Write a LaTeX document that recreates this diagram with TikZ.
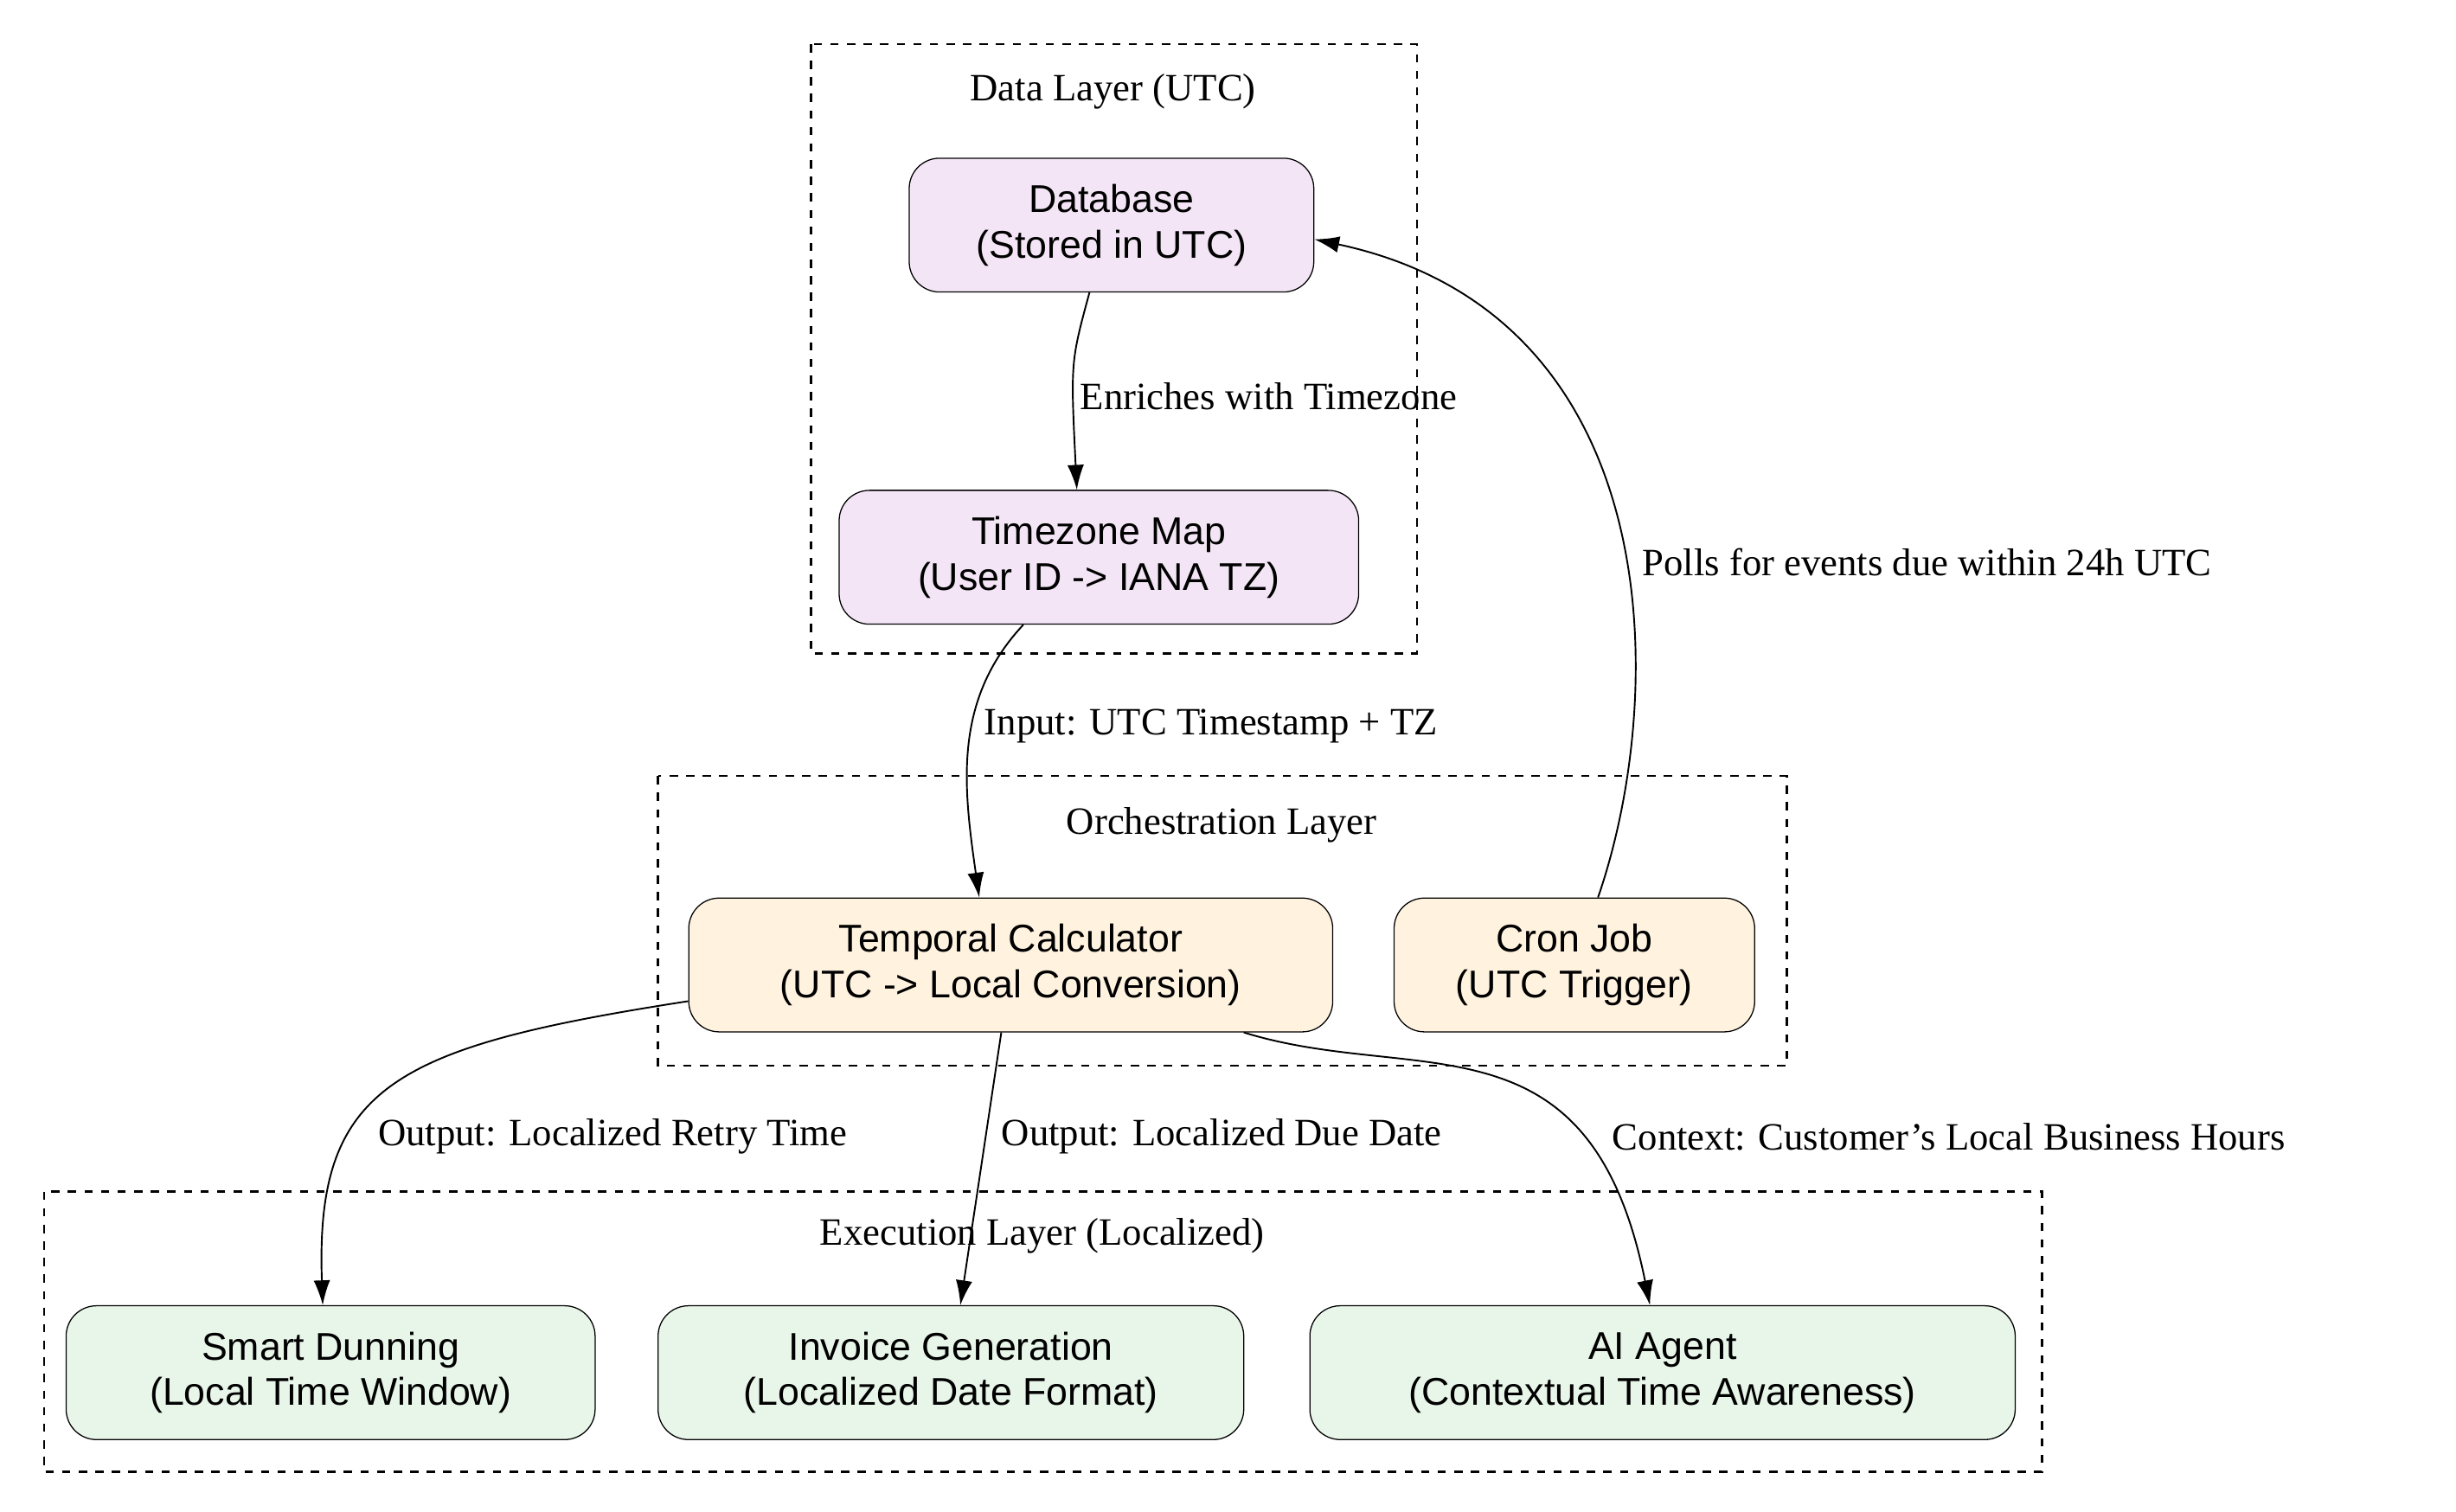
\documentclass[tikz,border=0pt]{standalone}
\usepackage{fontspec}
\setmainfont{Liberation Serif}
\setsansfont{Liberation Sans}
\usetikzlibrary{arrows.meta,positioning}
\definecolor{datafill}{HTML}{F3E5F5}
\definecolor{orchfill}{HTML}{FFF3E0}
\definecolor{execfill}{HTML}{E8F5E9}
\begin{document}
\begin{tikzpicture}[
    x=0.57pt, y=-0.57pt,
    box/.style={draw, rounded corners=11pt, align=center, inner sep=0pt, font=\sffamily\fontsize{14}{16.5}\selectfont, minimum height=0.57pt*85},
    layer/.style={draw, dashed, thick},
    lbl/.style={font=\fontsize{14}{16}\selectfont},
    arr/.style={-{Latex[length=9pt,width=6pt]}, semithick}
  ]
    \useasboundingbox (0,0) rectangle (1560,960);

    % clusters
    \draw[layer] (515,28) rectangle (900,415);
    \node[lbl] (datalbl) at (707,58) {Data Layer (UTC)};
    \draw[layer] (418,493) rectangle (1135,677);
    \node[lbl] (orchlbl) at (776,524) {Orchestration Layer};
    \draw[layer] (28,757) rectangle (1297,935);
    \node[lbl] (execlbl) at (662,785) {Execution Layer (Localized)};

    % nodes
    \node[box, fill=datafill, minimum width=0.57pt*257] (db) at (706,143) {Database\\(Stored in UTC)};
    \node[box, fill=datafill, minimum width=0.57pt*330] (tzmap) at (698,354) {Timezone Map\\(User ID -> IANA TZ)};
    \node[box, fill=orchfill, minimum width=0.57pt*409] (calc) at (642,613) {Temporal Calculator\\(UTC -> Local Conversion)};
    \node[box, fill=orchfill, minimum width=0.57pt*229] (cron) at (1000,613) {Cron Job\\(UTC Trigger)};
    \node[box, fill=execfill, minimum width=0.57pt*336] (dunning) at (210,872) {Smart Dunning\\(Local Time Window)};
    \node[box, fill=execfill, minimum width=0.57pt*372] (invoice) at (604,872) {Invoice Generation\\(Localized Date Format)};
    \node[box, fill=execfill, minimum width=0.57pt*448] (agent) at (1056,872) {AI Agent\\(Contextual Time Awareness)};

    % edges
    \draw[arr] (db.south) ++(-14,0) coordinate (dbs) (dbs) .. controls (680,230) .. (tzmap.north -| 684,0);
    \node[lbl, anchor=west] (enrich) at (680,252) {Enriches with Timezone};
    \draw[arr] (tzmap.south) ++(-48,0) coordinate (tzs) (tzs) .. controls (605,445) and (612,500) .. (calc.north -| 622,0);
    \node[lbl, anchor=west] (inputlbl) at (619,461) {Input: UTC Timestamp + TZ};
    \draw[arr] (cron.north) ++(15,0) coordinate (crn) (crn) .. controls (1060,440) and (1060,200) .. (db.east |- 0,152);
    \node[lbl, anchor=west] (polls) at (1037,357) {Polls for events due within 24h UTC};
    \draw[arr] (calc.west |- 0,636) .. controls (250,665) and (200,690) .. (dunning.north -| 205,0);
    \node[lbl, anchor=west] (retry) at (234,722) {Output: Localized Retry Time};
    \draw[arr] (calc.south -| 636,0) -- (invoice.north -| 610,0);
    \node[lbl, anchor=west] (due) at (630,722) {Output: Localized Due Date};
    \draw[arr] (calc.south -| 790,0) .. controls (900,690) and (1010,640) .. (agent.north -| 1048,0);
    \node[lbl, anchor=west] (ctx) at (1018,722) {Context: Customer's Local Business Hours};
\end{tikzpicture}
\end{document}
